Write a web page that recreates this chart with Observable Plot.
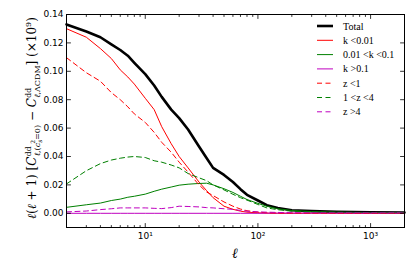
<!DOCTYPE html>
<html><head><meta charset="utf-8">
<script src="https://cdn.jsdelivr.net/npm/d3@7"></script>
<script src="https://cdn.jsdelivr.net/npm/@observablehq/plot@0.6"></script>
<style>
body{margin:0;background:#fff}
#chart svg{font-family:"DejaVu Sans",sans-serif;}
</style>
</head><body><div id="chart"></div>
<script>
const ell   = [2,3,4,5,6,7,8,10,12,14,17,20,24,30,35,40,50,60,70,80,100,120,150,200,300,500,1000,2000];
const total = [.133,.128,.124,.119,.115,.111,.106,.098,.090,.082,.073,.067,.059,.047,.039,.032,.027,.022,.017,.013,.009,.0057,.0037,.0022,.0015,.001,.0007,.0005];
const kLow  = [.130,.124,.116,.109,.101,.096,.091,.081,.073,.061,.049,.040,.032,.022,.016,.011,.005,.0028,.0015,.0008,.0003,.0001,0,0,0,0,0,0];
const kMid  = [.0042,.006,.0072,.009,.010,.0113,.012,.0135,.0155,.017,.0185,.0198,.0205,.021,.0212,.020,.0173,.0147,.012,.0097,.007,.005,.0032,.002,.0012,.0008,.0005,.0004];
const kHigh = [0,0,0,0,0,0,0,0,0,0,0,0,0,0,0,0,0,0,0,0,0,.0001,.0001,.0001,.0001,.0001,.0001,.0001];
const zLow  = [.1096,.099,.093,.085,.080,.075,.070,.064,.057,.050,.043,.036,.029,.020,.015,.0125,.008,.005,.003,.0018,.0008,.0004,.0002,.0001,0,0,0,0];
const zMid  = [.0207,.030,.035,.0375,.0388,.0396,.040,.0393,.037,.036,.034,.032,.028,.025,.023,.020,.0165,.0134,.011,.0093,.0062,.0038,.0025,.0015,.0009,.0007,.0005,.0004];
const zHigh = [.001,.0016,.0026,.0032,.0038,.0038,.0038,.0038,.0035,.0033,.004,.005,.0048,.0045,.004,.0038,.0032,.0028,.002,.0015,.001,.0008,.0006,.0004,.0003,.0003,.0003,.0003];

const seriesNames  = ["Total","k <0.01","0.01 <k <0.1","k >0.1","z <1","1 <z <4","z >4"];
const seriesValues = [total,kLow,kMid,kHigh,zLow,zMid,zHigh];
const seriesColors = ["#000000","#ff0000","#008000","#bf00bf","#ff0000","#008000","#bf00bf"];
const seriesWidths = [2.6,1,1,1,1,1,1];
const seriesDash   = [null,null,null,null,"5,3.5","5,3.5","5,3.5"];

const yTicks = [0.00,0.02,0.04,0.06,0.08,0.10,0.12,0.14];
const xTicks = [10,100,1000];
const xTickLabels = ["10\u00B9","10\u00B2","10\u00B3"];
const xMinor = [2,3,4,5,6,7,8,9,20,30,40,50,60,70,80,90,200,300,400,500,600,700,800,900];

const spike = {draw(ctx, l){ ctx.moveTo(0,0); ctx.lineTo(0,-l); }};

const marks = [];
seriesValues.forEach((vals, s) => {
  const rows = ell.map((l,i) => ({ell:l, v:vals[i]}));
  marks.push(Plot.line(rows, {x:"ell", y:"v", stroke:seriesColors[s], strokeWidth:seriesWidths[s],
    strokeDasharray: seriesDash[s] || undefined}));
});
const tk = (data, opts) => Plot.vector(data, {anchor:"start", shape:spike, stroke:"black", strokeWidth:0.8, ...opts});
marks.push(tk(xTicks, {x:d=>d, frameAnchor:"bottom", rotate:0, length:4}));
marks.push(tk(xTicks, {x:d=>d, frameAnchor:"top", rotate:180, length:4}));
marks.push(tk(xMinor, {x:d=>d, frameAnchor:"bottom", rotate:0, length:2}));
marks.push(tk(xMinor, {x:d=>d, frameAnchor:"top", rotate:180, length:2}));
marks.push(tk(yTicks, {y:d=>d, frameAnchor:"left", rotate:90, length:4}));
marks.push(tk(yTicks, {y:d=>d, frameAnchor:"right", rotate:-90, length:4}));
marks.push(Plot.frame({stroke:"black", strokeWidth:1}));
marks.push(Plot.axisX(xTicks, {tickSize:0, tickPadding:5, fontSize:9, label:null,
  tickFormat:(d)=>xTickLabels[xTicks.indexOf(d)]}));
marks.push(Plot.axisY(yTicks, {tickSize:0, tickPadding:3, fontSize:9, label:null, tickFormat:d3.format(".2f")}));

const chart = Plot.plot({
  width:415, height:277,
  marginLeft:66, marginRight:11, marginTop:14, marginBottom:50,
  x:{type:"log", domain:[2,2000]},
  y:{domain:[-0.01,0.14]},
  marks
});
document.getElementById("chart").append(chart);

const svg = d3.select(chart);
const serif = "'DejaVu Serif', serif";

svg.append("text").attr("x",235).attr("y",258).attr("text-anchor","middle")
  .attr("font-family",serif).attr("font-style","italic").attr("font-size",14).text("ℓ");

const yl = svg.append("text").attr("transform","translate(36,118) rotate(-90)")
  .attr("text-anchor","middle").attr("font-family",serif).attr("font-size",12).attr("fill","black");
const parts = [
  {t:"ℓ", it:1},{t:"("},{t:"ℓ", it:1},{t:" + 1) ["},
  {t:"C", it:1},{t:"dd", fs:8, dy:-5},{t:"ℓ", it:1, fs:8, dx:-10, dy:9},{t:",(", fs:8},{t:"c", it:1, fs:8},
  {t:"s", it:1, fs:6, dy:2},{t:"2", fs:6, dx:-4, dy:-7},{t:"=0)", fs:8, dy:5},
  {t:" − ", dy:-4},{t:"C", it:1},{t:"dd", fs:8, dy:-5},{t:"ℓ", it:1, fs:8, dx:-10, dy:9},{t:",ΛCDM", fs:8},
  {t:"] (×10", dy:-4},{t:"9", fs:8, dy:-5},{t:")", dy:5}
];
parts.forEach(p => {
  const ts = yl.append("tspan").text(p.t);
  if (p.it) ts.attr("font-style","italic");
  if (p.fs) ts.attr("font-size",p.fs);
  if (p.dx) ts.attr("dx",p.dx);
  if (p.dy) ts.attr("dy",p.dy);
});

const lg = svg.append("g");
seriesNames.forEach((name,i) => {
  const y = 26 + i*14.3;
  lg.append("line").attr("x1",317).attr("x2",333).attr("y1",y).attr("y2",y)
    .attr("stroke",seriesColors[i]).attr("stroke-width",seriesWidths[i])
    .attr("stroke-dasharray",seriesDash[i]);
  lg.append("text").attr("x",343).attr("y",y+3.5).attr("text-anchor","start")
    .attr("font-family","'Liberation Serif', serif")
    .attr("font-size",10).attr("fill","black").text(name);
});
</script>
</body></html>
